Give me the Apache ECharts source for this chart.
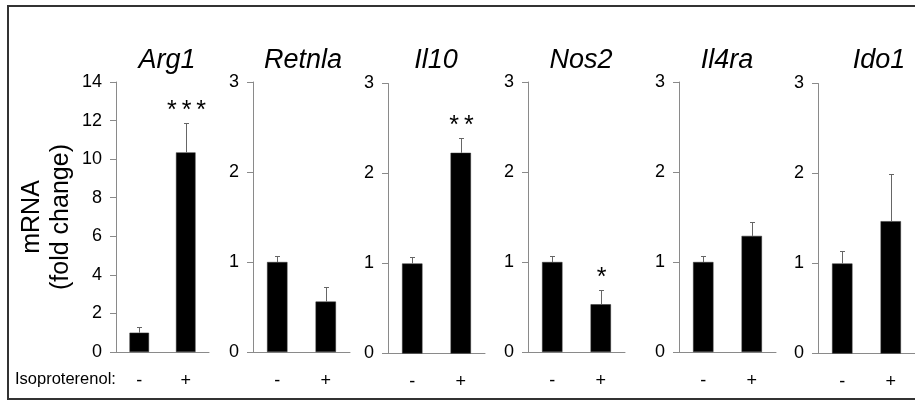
<!DOCTYPE html>
<html>
<head>
<meta charset="utf-8">
<script src="https://cdn.jsdelivr.net/npm/echarts@6/dist/echarts.min.js"></script>
<style>
html,body{margin:0;padding:0;background:#fff;}
#chart{width:915px;height:403px;}
</style>
</head>
<body>
<div id="chart"></div>
<script>
// ---- data ----
var genes = ['Arg1', 'Retnla', 'Il10', 'Nos2', 'Il4ra', 'Ido1'];
var categories = ['-', '+'];
var meanArg1 = [1.0, 10.35];
var errArg1 = [0.28, 1.5];
var meanRetnla = [1.0, 0.56];
var errRetnla = [0.07, 0.16];
var meanIl10 = [1.0, 2.23];
var errIl10 = [0.07, 0.16];
var meanNos2 = [1.0, 0.53];
var errNos2 = [0.07, 0.155];
var meanIl4ra = [1.0, 1.29];
var errIl4ra = [0.07, 0.16];
var meanIdo1 = [1.0, 1.47];
var errIdo1 = [0.14, 0.53];
var sigArg1 = ['', '*\u2009*\u2009*'];
var sigRetnla = ['', ''];
var sigIl10 = ['', '*\u2009*'];
var sigNos2 = ['', '*'];
var sigIl4ra = ['', ''];
var sigIdo1 = ['', ''];
var yMax = [14, 3, 3, 3, 3, 3];
var yInterval = [2, 1, 1, 1, 1, 1];
var yAxisTitle = 'mRNA\n(fold change)';
var treatmentLabel = 'Isoproterenol:';

var means = [meanArg1, meanRetnla, meanIl10, meanNos2, meanIl4ra, meanIdo1];
var errs = [errArg1, errRetnla, errIl10, errNos2, errIl4ra, errIdo1];
var sigs = [sigArg1, sigRetnla, sigIl10, sigNos2, sigIl4ra, sigIdo1];

// ---- layout ----
var gridLeft = [116, 253, 388, 528, 679, 818];
var gridWidth = [93, 97, 97, 97, 97, 102];
var gridTop = [82, 82, 83.5, 82, 82, 83.5];
var gridHeight = 270;
var titleX = [167, 303, 436, 581, 727, 879];
var FONT = "'Liberation Sans', Arial, Helvetica, sans-serif";

var chart = echarts.init(document.getElementById('chart'), null, {renderer: 'canvas'});

var grids = [], xAxes = [], yAxes = [], series = [], graphics = [];

genes.forEach(function (g, i) {
  grids.push({left: gridLeft[i], top: gridTop[i], width: gridWidth[i], height: gridHeight, containLabel: false});
  xAxes.push({
    type: 'category', gridIndex: i, data: categories,
    axisLine: {lineStyle: {color: '#8a8a8a', width: 1}},
    axisTick: {show: false},
    axisLabel: {color: '#000', fontSize: 18, fontFamily: FONT, margin: 20}
  });
  var ya = {
    type: 'value', gridIndex: i, min: 0, max: yMax[i], interval: yInterval[i],
    axisLine: {show: true, lineStyle: {color: '#8a8a8a', width: 1}},
    axisTick: {show: true, length: 6, lineStyle: {color: '#8a8a8a', width: 1}},
    splitLine: {show: false},
    axisLabel: {color: '#000', fontSize: 18, fontFamily: FONT, margin: 14, padding: [9, 0, 0, 0]}
  };
  if (i === 0) {
    ya.name = yAxisTitle;
    ya.nameLocation = 'middle';
    ya.nameRotate = 90;
    ya.nameGap = 40;
    ya.nameTextStyle = {color: '#000', fontSize: 25, fontFamily: FONT, lineHeight: 29};
  }
  yAxes.push(ya);

  series.push({
    type: 'bar', xAxisIndex: i, yAxisIndex: i, data: means[i],
    barWidth: '42%',
    itemStyle: {color: '#000', borderColor: '#333', borderWidth: 0.5},
    silent: true, animation: false
  });

  var edata = means[i].map(function (m, k) { return [k, m, errs[i][k]]; });
  (function (idx) {
    series.push({
      type: 'custom', xAxisIndex: idx, yAxisIndex: idx, data: edata,
      silent: true, animation: false, z: 5,
      renderItem: function (params, api) {
        var x = api.value(0), v = api.value(1), e = api.value(2);
        var base = api.coord([x, v]);
        var top = api.coord([x, v + e]);
        var cx = Math.round(base[0]) + 0.5;
        var ty = Math.round(top[1]) + 0.5;
        var children = [
          {type: 'line', shape: {x1: cx, y1: base[1], x2: cx, y2: ty}, style: {stroke: '#666', lineWidth: 1}},
          {type: 'line', shape: {x1: cx - 2.5, y1: ty, x2: cx + 2.5, y2: ty}, style: {stroke: '#666', lineWidth: 1}}
        ];
        var s = sigs[idx][params.dataIndex];
        if (s) {
          children.push({type: 'text', x: cx, y: ty - 12,
            style: {text: s, fontSize: 25, fontFamily: FONT, fill: '#000', align: 'center', verticalAlign: 'middle'}});
        }
        return {type: 'group', children: children};
      }
    });
  })(i);

  graphics.push({
    type: 'text', x: titleX[i], y: 60,
    style: {text: g, fontSize: 27, fontStyle: 'italic', fontFamily: FONT, fill: '#000', align: 'center', verticalAlign: 'middle'}
  });
});

graphics.push({
  type: 'text', x: 15, y: 379,
  style: {text: treatmentLabel, fontSize: 16.5, fontFamily: FONT, fill: '#000', align: 'left', verticalAlign: 'middle'}
});
graphics.push({
  type: 'rect', shape: {x: 8, y: 6, width: 930, height: 393},
  style: {fill: 'none', stroke: '#333', lineWidth: 2}, z: 100
});

chart.setOption({
  animation: false,
  backgroundColor: '#fff',
  grid: grids,
  xAxis: xAxes,
  yAxis: yAxes,
  series: series,
  graphic: graphics
});
</script>
</body>
</html>
